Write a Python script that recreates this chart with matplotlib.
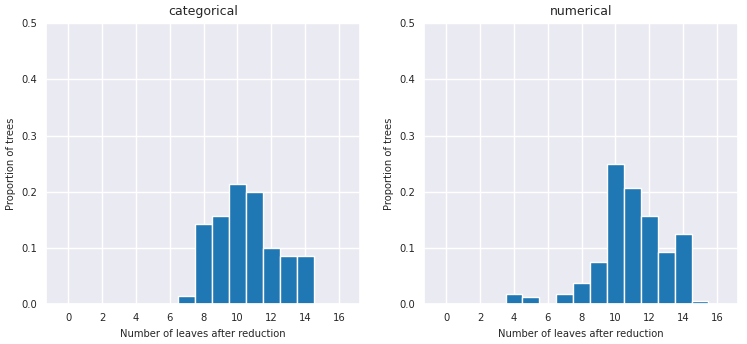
import numpy as np
import seaborn as sns
from matplotlib import pyplot as plt

leaves = np.arange(0, 17)

# proportions of trees per number of leaves
categorical = [0, 0, 0, 0, 0, 0, 0, 0.0143, 0.1429, 0.1571, 0.2143, 0.2,
               0.1, 0.0857, 0.0857, 0, 0]
numerical = [0, 0, 0, 0, 0.0188, 0.0125, 0, 0.0188, 0.0375, 0.075, 0.25,
             0.2063, 0.1563, 0.0938, 0.125, 0.0063, 0]

titles = ['categorical', 'numerical']


def plot_panel(ax, values, title):
    ax.bar(leaves, values, width=1.0, color='#1f77b4', edgecolor='white',
           linewidth=1)
    ax.set_xlim(-1.32, 17.25)
    ax.set_ylim(0, 0.5)
    ax.set_xticks(np.arange(0, 17, 2))
    ax.set_yticks([0, 0.1, 0.2, 0.3, 0.4, 0.5])
    ax.set_title(title, fontsize=9)
    ax.set_xlabel('Number of leaves after reduction', fontsize=7.2)
    ax.set_ylabel('Proportion of trees', fontsize=7.2)
    ax.tick_params(labelsize=7.2, length=0, pad=6.5)


def main():
    sns.set_theme(style='darkgrid')
    fig, axes = plt.subplots(1, 2, figsize=(7.47, 3.44), dpi=100)
    for ax, values, title in zip(axes, [categorical, numerical], titles):
        plot_panel(ax, values, title)
    fig.subplots_adjust(left=0.0616, right=0.988, top=0.933, bottom=0.115,
                        wspace=0.204)
    fig.savefig('out.png')


if __name__ == '__main__':
    main()
